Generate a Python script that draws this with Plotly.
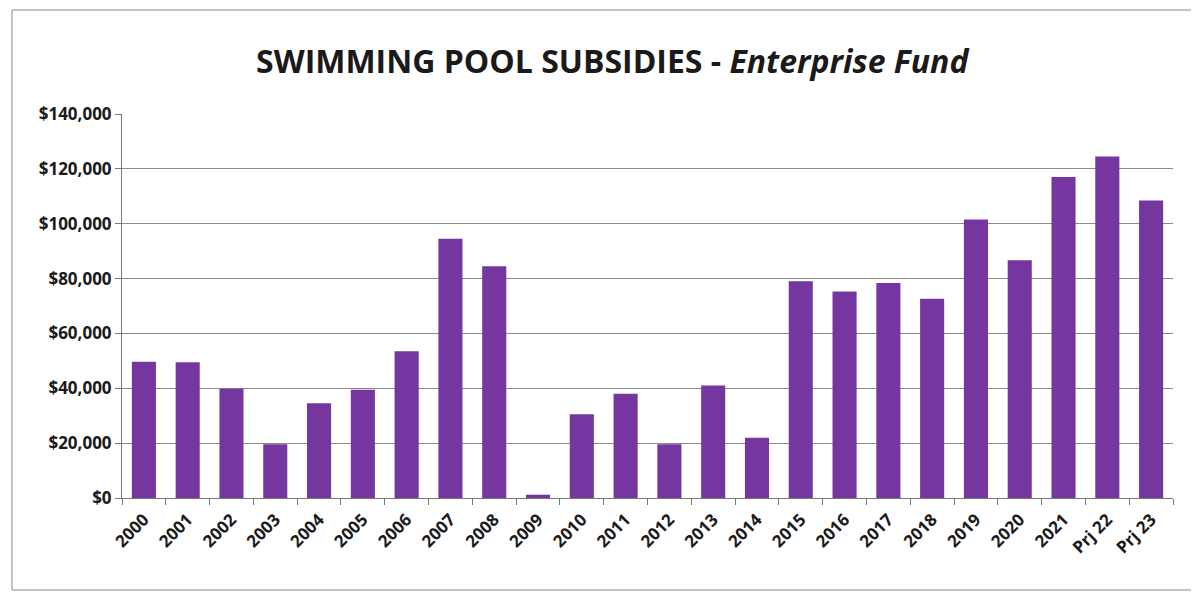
import plotly.graph_objects as go

categories = ["2000", "2001", "2002", "2003", "2004", "2005", "2006", "2007", "2008",
              "2009", "2010", "2011", "2012", "2013", "2014", "2015", "2016", "2017",
              "2018", "2019", "2020", "2021", "Prj 22", "Prj 23"]
subsidies = [49700, 49500, 39800, 19600, 34500, 39500, 53500, 94500, 84500,
             1200, 30500, 38000, 19600, 41000, 22000, 79000, 75300, 78400,
             72600, 101500, 86700, 117000, 124500, 108500]
y_ticks = [0, 20000, 40000, 60000, 80000, 100000, 120000, 140000]
y_tick_labels = ["$0", "$20,000", "$40,000", "$60,000", "$80,000", "$100,000", "$120,000", "$140,000"]

font_family = "Open Sans, Noto Sans, sans-serif"

fig = go.Figure(go.Bar(
    x=categories,
    y=subsidies,
    marker=dict(color="#7636A0", line=dict(width=0)),
))

fig.update_layout(
    width=1199, height=598,
    margin=dict(l=114, r=34, t=106, b=108),
    paper_bgcolor="white", plot_bgcolor="white",
    bargap=0.45,
    showlegend=False,
    title=dict(
        text="<b>SWIMMING POOL SUBSIDIES - <i>Enterprise Fund</i></b>",
        x=0.504, xanchor="center", y=0.91, yanchor="middle",
        font=dict(family=font_family, size=32, color="#1a1a1a"),
    ),
    xaxis=dict(
        type="category",
        tickangle=-45,
        tickvals=categories,
        ticktext=["<b>" + c + "</b>" for c in categories],
        tickfont=dict(family=font_family, size=17, color="#1a1a1a"),
        ticks="outside", tickson="boundaries", ticklen=6, tickcolor="#777",
        ticklabelstandoff=4,
        showline=True, linecolor="#777", linewidth=1,
        showgrid=False,
    ),
    yaxis=dict(
        range=[0, 140000],
        tickvals=y_ticks,
        ticktext=["<b>" + t + "</b>" for t in y_tick_labels],
        tickfont=dict(family=font_family, size=17, color="#1a1a1a"),
        ticks="outside", ticklen=6, tickcolor="#777",
        showline=True, linecolor="#777", linewidth=1,
        showgrid=True, gridcolor="#8a8a8a", gridwidth=1,
        zeroline=False,
    ),
    shapes=[dict(type="rect", xref="paper", yref="paper",
                 x0=-0.1047, x1=1.0219, y0=-0.2396, y1=1.2708,
                 line=dict(color="#888", width=1))],
)

fig.write_html("out.html")
